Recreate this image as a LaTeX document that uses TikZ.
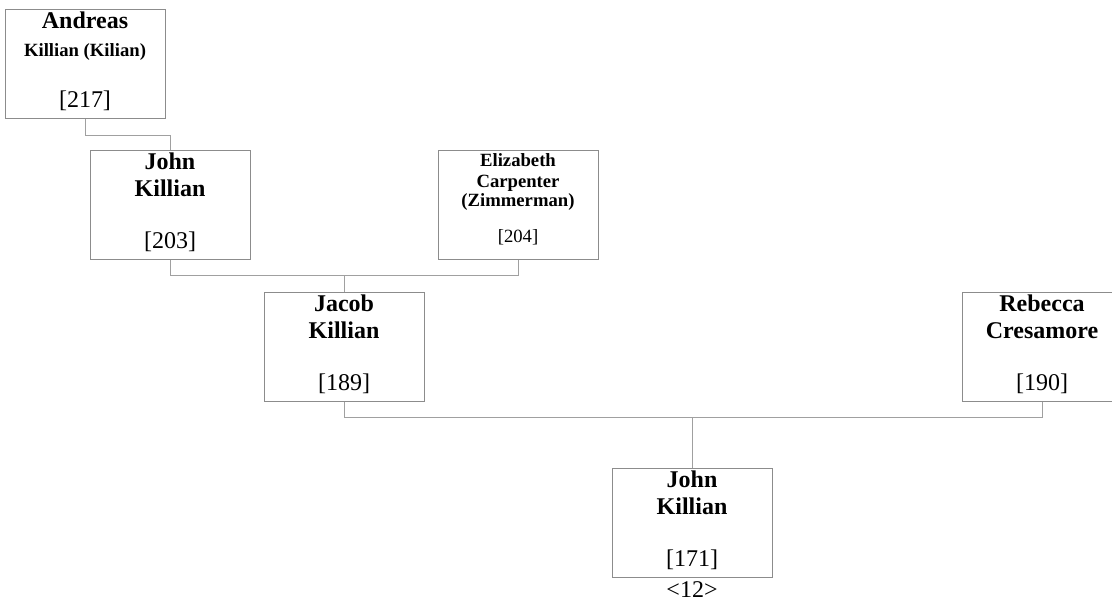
\documentclass[tikz,border=0pt]{standalone}
\usepackage{fontspec}
\setmainfont{Liberation Serif}
\definecolor{boxline}{HTML}{8C8C8C}
\definecolor{connline}{HTML}{A0A0A0}
\tikzset{
  person/.style={draw=boxline, line width=1pt, minimum width=160pt, minimum height=109pt, inner sep=0pt},
  conn/.style={draw=connline, line width=1pt},
  big/.style={anchor=base, inner sep=0pt, font=\fontsize{24}{27}\selectfont\bfseries},
  small/.style={anchor=base, inner sep=0pt, font=\fontsize{18.67}{21}\selectfont\bfseries},
  idbig/.style={anchor=base, inner sep=0pt, font=\fontsize{24}{27}\selectfont},
  idsmall/.style={anchor=base, inner sep=0pt, font=\fontsize{18.67}{21}\selectfont}
}
\begin{document}
\begin{tikzpicture}[x=1pt,y=-1pt]
\useasboundingbox (0,0) rectangle (1112,606);
\clip (0,0) rectangle (1112,606);
% boxes
\node[person] (andreas) at (85,63.5) {};
\node[person] (john2) at (170,204.5) {};
\node[person] (eliz) at (518,204.5) {};
\node[person] (jacob) at (344,346.5) {};
\node[person] (rebecca) at (1042,346.5) {};
\node[person] (john1) at (692,522.5) {};
% texts
\node[big] (t1a) at ([yshift=-20pt]andreas.north) {Andreas};
\node[small] (t1b) at ([yshift=-48pt]andreas.north) {Killian (Kilian)};
\node[idbig] (t1c) at ([yshift=-99pt]andreas.north) {[217]};
\node[big] (t2a) at ([yshift=-20pt]john2.north) {John};
\node[big] (t2b) at ([yshift=-47pt]john2.north) {Killian};
\node[idbig] (t2c) at ([yshift=-99pt]john2.north) {[203]};
\node[small] (t3a) at ([yshift=-17pt]eliz.north) {Elizabeth};
\node[small] (t3b) at ([yshift=-37.5pt]eliz.north) {Carpenter};
\node[small] (t3c) at ([yshift=-57pt]eliz.north) {(Zimmerman)};
\node[idsmall] (t3d) at ([yshift=-93pt]eliz.north) {[204]};
\node[big] (t4a) at ([yshift=-20pt]jacob.north) {Jacob};
\node[big] (t4b) at ([yshift=-47pt]jacob.north) {Killian};
\node[idbig] (t4c) at ([yshift=-99pt]jacob.north) {[189]};
\node[big] (t5a) at ([yshift=-20pt]rebecca.north) {Rebecca};
\node[big] (t5b) at ([yshift=-47pt]rebecca.north) {Cresamore};
\node[idbig] (t5c) at ([yshift=-99pt]rebecca.north) {[190]};
\node[big] (t6a) at ([yshift=-20pt]john1.north) {John};
\node[big] (t6b) at ([yshift=-47pt]john1.north) {Killian};
\node[idbig] (t6c) at ([yshift=-99pt]john1.north) {[171]};
\node[idbig] (gen) at ([yshift=-20pt]john1.south) {<12>};
% connectors
\draw[conn] (andreas.south) -- ++(0,17) -| (john2.north);
\draw[conn] (john2.south) -- ++(0,16) coordinate (c1) -| (eliz.south);
\draw[conn] (jacob.north) -- (jacob.north |- c1);
\draw[conn] (jacob.south) -- ++(0,16) coordinate (c2) -| (rebecca.south);
\draw[conn] (john1.north) -- (john1.north |- c2);
\end{tikzpicture}
\end{document}
